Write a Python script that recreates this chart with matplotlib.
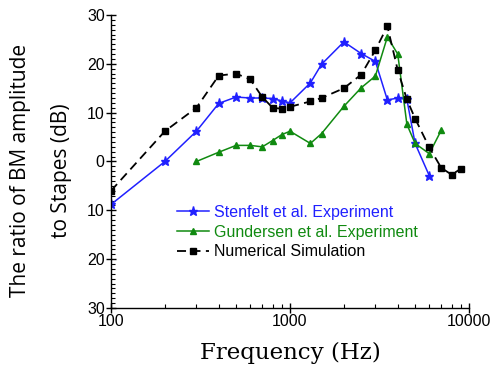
import matplotlib
matplotlib.use('Agg')
import matplotlib.pyplot as plt
from matplotlib.ticker import MultipleLocator, FixedLocator, FixedFormatter, LogLocator, NullFormatter

# Stenfelt et al. experiment
stenfelt_freq = [100, 200, 300, 400, 500, 600, 700, 800, 900, 1000, 1300, 1500,
                 2000, 2500, 3000, 3500, 4000, 4500, 5000, 6000]
stenfelt_db = [-8.8, 0.0, 6.2, 11.9, 13.2, 13.0, 13.0, 12.9, 12.4, 12.0, 16.1, 19.9,
               24.5, 22.1, 20.5, 12.6, 13.0, 12.7, 3.7, -2.9]

# Gundersen et al. experiment
gundersen_freq = [300, 400, 500, 600, 700, 800, 900, 1000, 1300, 1500, 2000, 2500,
                  3000, 3500, 4000, 4500, 5000, 6000, 7000]
gundersen_db = [0.0, 1.9, 3.3, 3.3, 3.0, 4.3, 5.5, 6.2, 3.7, 5.7, 11.3, 15.1,
                17.5, 25.5, 22.0, 7.6, 3.7, 1.6, 6.4]

# Numerical simulation
sim_freq = [100, 200, 300, 400, 500, 600, 700, 800, 900, 1000, 1300, 1500, 2000,
            2500, 3000, 3500, 4000, 4500, 5000, 6000, 7000, 8000, 9000]
sim_db = [-6.0, 6.2, 11.0, 17.6, 18.0, 16.8, 13.2, 11.0, 10.8, 11.2, 12.3, 13.0, 15.0,
          17.8, 22.8, 27.7, 18.7, 12.7, 8.8, 2.9, -1.3, -2.7, -1.5]

y_ticks = [-30, -20, -10, 0, 10, 20, 30]
y_tick_labels = ['30', '20', '10', '0', '10', '20', '30']
x_ticks = [100, 1000, 10000]
x_tick_labels = ['100', '1000', '10000']

fig = plt.figure(figsize=(4.92, 3.66), dpi=100)
ax = fig.add_axes([0.2256, 0.1585, 0.7276, 0.8005])

ax.plot(stenfelt_freq, stenfelt_db, color='#2020ff', lw=1.1, marker='*', ms=6.5,
        label='Stenfelt et al. Experiment')
ax.plot(gundersen_freq, gundersen_db, color='#108a10', lw=1.1, marker='^', ms=5,
        label='Gundersen et al. Experiment')
ax.plot(sim_freq, sim_db, color='black', lw=1.3, ls=(0, (5, 3)), marker='s', ms=4.5,
        label='Numerical Simulation')

ax.set_xscale('log')
ax.set_xlim(100, 10000)
ax.set_ylim(-30, 30)

ax.yaxis.set_major_locator(FixedLocator(y_ticks))
ax.yaxis.set_major_formatter(FixedFormatter(y_tick_labels))
ax.yaxis.set_minor_locator(MultipleLocator(1))
ax.xaxis.set_major_locator(FixedLocator(x_ticks))
ax.xaxis.set_major_formatter(FixedFormatter(x_tick_labels))
ax.xaxis.set_minor_locator(LogLocator(base=10, subs=range(2, 10)))
ax.xaxis.set_minor_formatter(NullFormatter())

for side in ['top', 'right']:
    ax.spines[side].set_visible(False)
for side in ['left', 'bottom']:
    ax.spines[side].set_linewidth(1.0)

ax.tick_params(which='major', direction='inout', length=7, width=1,
               labelsize=11.5, pad=1)
ax.tick_params(which='minor', direction='in', length=3, width=0.8)
for lbl in ax.get_xticklabels() + ax.get_yticklabels():
    lbl.set_fontfamily('Liberation Sans')

ax.set_xlabel('Frequency (Hz)', fontfamily='DejaVu Serif', fontsize=16.5)
ax.xaxis.set_label_coords(0.5, -0.115)
ax.set_ylabel('The ratio of BM amplitude\nto Stapes (dB)', fontfamily='Open Sans',
              fontsize=15, linespacing=2.2)
ax.yaxis.set_label_coords(-0.11, 0.47)

leg = ax.legend(loc='center left', bbox_to_anchor=(0.184, 0.259), frameon=False,
                borderpad=0, borderaxespad=0, handlelength=2.0, handletextpad=0.3,
                labelspacing=0.3, prop={'family': 'Liberation Sans', 'size': 11.5})
for text, col in zip(leg.get_texts(), ['#2020ff', '#108a10', 'black']):
    text.set_color(col)

fig.savefig('out.png', dpi=100)
